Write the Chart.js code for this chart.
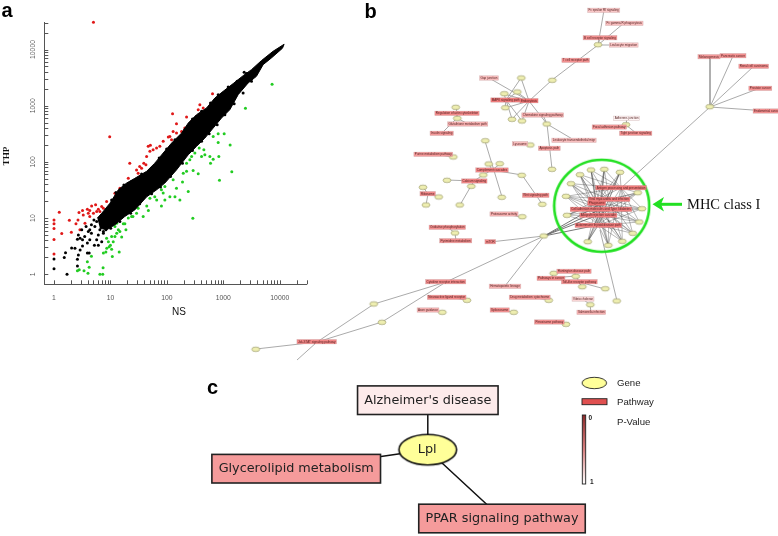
<!DOCTYPE html>
<html>
<head>
<meta charset="utf-8">
<style>
  html, body { margin: 0; padding: 0; background: #fff; }
  #wrap { position: relative; width: 778px; height: 536px; overflow: hidden; }
  canvas { position: absolute; left: 0; top: 0; }
</style>
<script src="https://cdn.jsdelivr.net/npm/chart.js@4/dist/chart.umd.min.js"></script>
</head>
<body>
<div id="wrap">
  <canvas id="scatter" width="330" height="330"></canvas>
  <canvas id="network" width="778" height="536"></canvas>
</div>
<script>
// panel a: expression values, NS vs THP
const redNS = [5, 9.7, 1, 1, 1, 1, 1, 1.24, 1.37, 1.87, 2.03, 2.45, 2.66, 2.77, 3.2, 2.88, 3.3, 3.9, 4.05, 4.64, 5.46, 5, 6.1, 7, 8.55, 12.5, 14.7, 20.7, 22, 29, 33, 31, 42.5, 46.7, 51, 50, 43.7, 65.6, 86, 106, 126, 129, 121, 148, 223, 208, 182, 384, 440, 643, 359, 15.8, 12, 4.3, 3.54, 5.7,
  35.6, 39, 57, 75, 113, 148, 274, 335, 6.5, 7.5, 4.3];
const redTHP = [30600, 280, 9.3, 7.9, 6.5, 4.15, 2.3, 12.7, 5.3, 9.2, 5.6, 7.9, 9.3, 12.6, 13.6, 6.2, 11.4, 14.4, 12.2, 16.5, 17.2, 12.2, 14.4, 16.1, 19.7, 24.2, 34, 51, 95, 72, 83, 63, 89, 189, 197, 154, 125, 176, 232, 277, 721, 349, 248, 478, 629, 401, 349, 1043, 910, 1640, 849, 21, 27.8, 10.7, 8.1, 13.1,
  77, 95, 164, 189, 284, 326, 526, 646, 13.1, 15, 13.6];
const greenNS = [7311, 2467, 1321, 1413, 855, 288, 1035, 810, 661, 810, 832, 661, 577, 593, 452, 471, 373, 313, 274, 223, 359, 292, 255, 195, 189, 239, 170, 148, 113, 129, 92, 80, 86, 66, 80, 61, 50, 47, 38, 44, 31, 25, 20.7, 16.9, 18.8, 13.8, 12.9, 15.8, 10.5, 9.2, 10, 8.6, 7.5, 14.3, 10.8, 4.6, 3.9, 4.2, 2.6, 2.8, 3.4, 4, 6.5, 7.3, 7.4, 10.5, 12.9, 12,
  8.55, 9.5, 8.3, 11.2, 12, 14.7, 18, 23.7, 29, 92, 139, 223, 411];
const greenTHP = [2404, 897, 199, 66.7, 47.4, 9.96, 317, 317, 284, 222, 125, 112, 125, 95, 164, 134, 176, 144, 125, 95, 61.4, 70, 109, 63, 43.7, 29.8, 21, 34, 24, 48, 36.5, 32, 28, 21, 16.5, 24, 22.6, 13.6, 10.7, 16.5, 15, 10.7, 10, 7.9, 6.2, 6.2, 5.4, 4.6, 4.7, 3.8, 3.3, 2.9, 2.4, 2.5, 2.07, 2.1, 1.68, 1.33, 1.16, 1.2, 1.16, 1.04, 1, 1, 1.31, 2.8, 8.1, 7.1,
  4.39, 3.1, 2.5, 3.8, 4.7, 5.8, 7.9, 10.7, 12.2, 21, 24, 68, 125];
const blackNS = [1, 1, 1.7, 1.52, 1.6, 2.05, 2.35, 2.6, 2.7, 2.6, 2.9, 3.2, 2.7, 2.9, 2.6, 3.2, 3.1, 3.7, 4.05, 3.5, 4.3, 4.6, 3.9, 3.9, 4.2, 5.2, 5.7, 6.1, 6.5, 5.3, 5.7, 4.6, 6.5, 7.5, 7, 8.3, 5.1, 4.3, 6.1, 2339, 2570,
  10.5, 12.5, 17.3, 23.7, 35.6, 53.6, 73, 99, 139, 208, 284, 411, 593, 810, 1219, 1758,
  7.5, 10.1, 14.7, 22.8, 33, 53.6, 77, 116, 189, 284, 411, 561, 778, 1064, 1556, 2244, 3155];
const blackTHP = [1.26, 1.88, 1, 2, 2.43, 2.95, 2.9, 1.85, 2.2, 1.4, 2.7, 3.2, 5, 4.4, 4.2, 4.1, 6.2, 7.1, 5.8, 4.7, 4.1, 5.4, 3.6, 2.4, 2.4, 3.3, 4.1, 5, 6.2, 7.1, 8.7, 7.6, 9.3, 5.4, 3.8, 6.2, 9.3, 6.2, 3.3, 3935, 3724,
  21, 28.6, 39, 45, 61, 77, 117, 169, 248, 374, 579, 794, 1117, 1574, 2153, 2716,
  5.8, 6.6, 8.7, 12.2, 18, 27, 35.6, 55, 95, 160, 232, 317, 459, 692, 1086, 1683, 2716];
// outline of the solid black band, up one edge and back down the other
const bandNS = [5.85, 7, 9.8, 13.8, 19.3, 27, 43.7, 61, 86, 121, 182, 239, 335, 504, 708, 993, 1493, 2244, 3155, 4742, 7620, 11940, 11150, 7112, 5070, 3864, 2754, 1832, 1303, 929, 661, 471, 335, 239, 148, 92, 66, 44, 27, 18, 12, 8.6, 6.5];
const bandTHP = [10, 12.2, 18.4, 32, 42, 51, 68, 95, 144, 216, 326, 492, 692, 910, 1372, 1803, 2472, 3428, 4385, 6353, 9311, 12400, 10520, 7079, 5383, 3334, 2541, 1574, 849, 604, 400, 265, 189, 134, 72, 42, 32, 24, 14, 10.7, 7.6, 6.2, 6.6];
const majorTicks = [1, 10, 100, 1000, 10000];
const logTicks = [1, 2, 3, 4, 5, 6, 7, 8, 9, 10, 20, 30, 40, 50, 60, 70, 80, 90, 100, 200, 300, 400, 500, 600, 700, 800, 900, 1000, 2000, 3000, 4000, 5000, 6000, 7000, 8000, 9000, 10000, 20000, 30000];

// panel b: network layout (x, y), pathway label and p-value
const geneNodes = [[598, 44.7], [552.3, 80.3], [709.7, 106.7], [626, 124.7], [546.7, 124], [552, 169.3], [521.3, 78], [517.3, 92], [504.3, 93.7], [505.3, 107.7], [512, 119.3], [522, 121], [455.7, 107.3], [457.3, 118.3], [530.3, 145], [453.3, 157], [485.3, 140.7], [488.7, 164], [499.7, 163.7], [483.3, 175], [447, 180.3], [471.3, 186.3], [459.7, 205], [521.7, 175.3], [542.3, 204.3], [501.7, 197.3], [423, 187.3], [438.7, 197], [426, 205], [522.3, 216.7], [455, 233], [543.7, 236], [373.7, 304], [382, 322.3], [255.7, 349.3], [467, 300.3], [442.3, 312.3], [513.7, 312.3], [548.7, 300.3], [566, 324.3], [553.7, 273.3], [575.7, 276.3], [582.3, 286.7], [605.3, 288.7], [590.3, 304.7], [616.7, 301]];
const mhcGenes = [[580, 174.7], [591, 170], [604.3, 169.3], [620, 172.3], [571, 183.7], [637.7, 192.7], [566, 196.3], [642, 208.7], [567, 215.3], [639.3, 222], [632.7, 233.3], [622.3, 241.3], [608.3, 245.3], [587.7, 241.7]];
const mhcPathways = [[621, 187.7], [609, 199.3], [596.7, 203.3], [601, 209.3], [598.3, 215.3], [598.3, 225.3]];
const mhcPathwayNames = ['Antigen processing and presentation', 'Viral myocarditis and infection', 'Phagosome', 'Cell adhesion molecules and Type I diabetes', 'Allograft rejection cascade', 'Autoimmune thyroid disease path'];
const mhcPathwayP = [0.35, 0.35, 0.3, 0.35, 0.35, 0.35];
const pathwayNodes = [[603.7, 10.3], [624.3, 23.3], [600, 37.7], [623.7, 45], [575.7, 60.3], [709, 56.7], [733, 55.7], [753.7, 66.3], [760.3, 88.3], [767, 111], [626.7, 118.3], [609.3, 127], [635.7, 133.3], [542.7, 115], [574, 140.3], [549.3, 148.3], [489, 78], [505.7, 100], [529, 100.7], [457, 113.3], [467.7, 124], [441.7, 133.3], [520, 143.7], [433.3, 154.3], [492, 170], [474.3, 181], [535.7, 195.3], [427.7, 193.7], [504, 214], [447.3, 227.3], [455.7, 240.7], [490.3, 241.7], [445.7, 281.7], [505, 286.3], [316.7, 341.7], [446.7, 297.3], [428, 310], [499.7, 310], [529.7, 297.3], [549.3, 322], [574, 271.3], [551, 278.3], [579.3, 281.7], [583, 299], [591.3, 312.3]];
const pathwayNames = ['Fc epsilon RI signaling', 'Fc gamma R phagocytosis', 'B cell receptor signaling', 'Leukocyte migration', 'T cell receptor path', 'Melanogenesis', 'Pancreatic cancer', 'Renal cell carcinoma', 'Prostate cancer', 'Endometrial cancer', 'Adherens junction', 'Focal adhesion pathway', 'Tight junction signaling', 'Chemokine signaling pathway', 'Leukocyte transendothelial migr', 'Apoptosis path', 'Gap junction', 'MAPK signaling path', 'Endocytosis', 'Regulation of actin cytoskeleton', 'Glutathione metabolism path', 'Insulin signaling', 'Lysosome', 'Purine metabolism pathway', 'Complement cascades', 'Calcium signaling', 'Wnt signaling path', 'Ribosome', 'Proteasome activity', 'Oxidative phosphorylation', 'Pyrimidine metabolism', 'mTOR', 'Cytokine receptor interaction', 'Hematopoietic lineage', 'Jak-STAT signaling pathway', 'Neuroactive ligand receptor', 'Axon guidance', 'Spliceosome', 'Drug metabolism cytochrome', 'Peroxisome pathway', 'Huntington disease path', 'Pathways in cancer', 'Toll-like receptor pathway', 'Vibrio cholerae', 'Salmonella infection'];
const pathwayP = [0.72, 0.68, 0.45, 0.72, 0.45, 0.5, 0.45, 0.45, 0.45, 0.45, 0.95, 0.5, 0.45, 0.62, 0.68, 0.5, 0.68, 0.35, 0.3, 0.42, 0.62, 0.5, 0.68, 0.5, 0.4, 0.4, 0.42, 0.42, 0.62, 0.45, 0.45, 0.42, 0.42, 0.62, 0.4, 0.42, 0.62, 0.45, 0.5, 0.45, 0.45, 0.42, 0.42, 0.8, 0.62];
const networkEdges = [
  [604, 10, 598, 45], [624, 23, 598, 45], [600, 38, 598, 45], [624, 45, 598, 45], [598, 45, 552, 80], [552, 80, 529, 101],
  [710, 57, 710, 107], [733, 56, 710, 107], [754, 66, 710, 107], [760, 88, 710, 107], [767, 111, 710, 107], [710, 107, 621, 188],
  [627, 118, 626, 125], [609, 127, 626, 125], [636, 133, 626, 125],
  [489, 78, 529, 101], [529, 101, 547, 124], [547, 124, 543, 115], [547, 124, 574, 140], [547, 124, 552, 169],
  [521, 78, 506, 100], [521, 78, 529, 101], [517, 92, 506, 100], [517, 92, 529, 101], [504, 94, 506, 100], [504, 94, 529, 101],
  [505, 108, 506, 100], [505, 108, 529, 101], [512, 119, 506, 100], [512, 119, 529, 101], [522, 121, 506, 100], [522, 121, 529, 101],
  [456, 107, 457, 113], [457, 113, 457, 118], [457, 118, 468, 124], [457, 118, 442, 133],
  [520, 144, 530, 145], [433, 154, 453, 157], [485, 141, 502, 197],
  [489, 164, 492, 170], [500, 164, 492, 170], [492, 170, 483, 175], [492, 170, 522, 175], [522, 175, 536, 195], [536, 195, 542, 204],
  [483, 175, 474, 181], [447, 180, 474, 181], [474, 181, 471, 186], [471, 186, 460, 205],
  [423, 187, 428, 194], [439, 197, 428, 194], [426, 205, 428, 194], [504, 214, 522, 217],
  [447, 227, 455, 233], [455, 233, 456, 241], [490, 242, 544, 236], [544, 236, 446, 282], [544, 236, 505, 286],
  [446, 282, 374, 304], [446, 282, 382, 322], [374, 304, 317, 342], [317, 342, 297, 360], [382, 322, 317, 342], [317, 342, 256, 349],
  [447, 297, 467, 300], [428, 310, 442, 312], [500, 310, 514, 312], [530, 297, 549, 300], [549, 322, 566, 324],
  [574, 271, 576, 276], [554, 273, 551, 278], [576, 276, 551, 278], [576, 276, 579, 282], [579, 282, 582, 287], [579, 282, 605, 289],
  [583, 299, 590, 305], [590, 305, 591, 312], [617, 301, 600, 230]
];
const hubEdges = [[544, 236, 598, 225], [544, 236, 598, 215], [544, 236, 601, 209], [544, 236, 609, 199]];
const mhcOutline = [[601.7, 205.8]];

// panel c
const cGene = [[427.7, 449.7]];
const cPathways = [[427.8, 400.2], [296.2, 468.7], [502, 518.5]];
const cPathwayNames = ["Alzheimer's disease", 'Glycerolipid metabolism', 'PPAR signaling pathway'];
const cPathwayP = [0.9, 0.5, 0.5];

function pathwayColor(p) {
  const mix = (c) => Math.round(255 + (c - 255) * (1 - p));
  return 'rgb(' + mix(235) + ',' + mix(55) + ',' + mix(55) + ')';
}

function ellipseStyle(w, h, fill, stroke, lw) {
  const c = document.createElement('canvas');
  c.width = Math.ceil(w) + 4;
  c.height = Math.ceil(h) + 4;
  const g = c.getContext('2d');
  g.beginPath();
  g.ellipse(c.width / 2, c.height / 2, w / 2, h / 2, 0, 0, Math.PI * 2);
  g.fillStyle = fill;
  g.fill();
  g.lineWidth = lw;
  g.strokeStyle = stroke;
  g.stroke();
  return c;
}

function zipXY(xs, ys) {
  return xs.map((x, i) => ({ x: x, y: ys[i] }));
}

// --- scatter chart ---
const scatterLabels = {
  id: 'scatterLabels',
  afterDraw(chart) {
    const ctx = chart.ctx;
    const xs = chart.scales.x, ys = chart.scales.y;
    ctx.save();
    ctx.strokeStyle = '#555';
    ctx.lineWidth = 1;
    ctx.beginPath();
    logTicks.forEach((v) => {
      const px = Math.round(xs.getPixelForValue(v)) + 0.5;
      ctx.moveTo(px, xs.top);
      ctx.lineTo(px, xs.top - 4);
      const py = Math.round(ys.getPixelForValue(v)) + 0.5;
      ctx.moveTo(ys.right, py);
      ctx.lineTo(ys.right + 4, py);
    });
    ctx.stroke();
    // rotated y tick labels, the library cannot centre these
    ctx.fillStyle = '#555';
    ctx.font = '6.8px "Liberation Sans"';
    ctx.textAlign = 'center';
    ctx.textBaseline = 'middle';
    majorTicks.forEach((v) => {
      ctx.save();
      ctx.translate(33, ys.getPixelForValue(v));
      ctx.rotate(-Math.PI / 2);
      ctx.fillText(String(v), 0, 0);
      ctx.restore();
    });
    ctx.fillStyle = '#111';
    ctx.font = '10px "Liberation Sans"';
    ctx.fillText('NS', 179, 312.7);
    ctx.font = 'bold 9.2px "Liberation Serif"';
    ctx.save();
    ctx.translate(7, 156);
    ctx.rotate(-Math.PI / 2);
    ctx.fillText('THP', 0, 0);
    ctx.restore();
    ctx.restore();
  }
};

function pointSet(xs, ys, color, order) {
  return {
    data: zipXY(xs, ys),
    backgroundColor: color,
    borderWidth: 0,
    pointRadius: 1.5,
    pointHoverRadius: 1.5,
    clip: false,
    order: order
  };
}

new Chart(document.getElementById('scatter').getContext('2d'), {
  type: 'scatter',
  data: {
    datasets: [
      pointSet(blackNS, blackTHP, '#000', 2),
      pointSet(redNS, redTHP, '#e01818', 3),
      pointSet(greenNS, greenTHP, '#22cc22', 3),
      {
        data: zipXY(bandNS, bandTHP),
        showLine: true,
        fill: 'shape',
        backgroundColor: '#000',
        borderColor: '#000',
        borderWidth: 1,
        pointRadius: 0,
        order: 1
      }
    ]
  },
  options: {
    responsive: false,
    animation: false,
    layout: { autoPadding: false, padding: { left: 0, top: 22.7, right: 23.3, bottom: 0 } },
    plugins: { legend: { display: false }, tooltip: { enabled: false } },
    scales: {
      x: {
        type: 'logarithmic',
        min: 0.673,
        max: 30000,
        afterFit(s) { s.height = 45.7; },
        afterBuildTicks(s) { s.ticks = logTicks.map((v) => ({ value: v })); },
        grid: { display: false },
        border: { display: true, color: '#555', width: 1 },
        ticks: {
          autoSkip: false,
          maxRotation: 0,
          padding: 1.5,
          color: '#555',
          font: { family: 'Liberation Sans', size: 6.8 },
          callback: (v) => (majorTicks.includes(v) ? String(v) : '')
        }
      },
      y: {
        type: 'logarithmic',
        min: 0.664,
        max: 30000,
        afterFit(s) { s.width = 44.3; },
        afterBuildTicks(s) { s.ticks = logTicks.map((v) => ({ value: v })); },
        grid: { display: false },
        border: { display: true, color: '#555', width: 1 },
        ticks: { display: false }
      }
    }
  },
  plugins: [scatterLabels]
});

// --- network panels, drawn over the whole page ---
function edgePoints(edges) {
  const out = [];
  edges.forEach((e) => {
    out.push({ x: e[0], y: e[1] }, { x: e[2], y: e[3] }, { x: NaN, y: NaN });
  });
  return out;
}

const mhcEdges = [];
mhcGenes.forEach((g) => {
  mhcPathways.forEach((p) => mhcEdges.push([g[0], g[1], p[0], p[1]]));
});
const cEdges = cPathways.map((p) => [cGene[0][0], cGene[0][1], p[0], p[1]]);

function lineSet(edges, color, width, order) {
  return {
    type: 'line',
    data: edgePoints(edges),
    borderColor: color,
    borderWidth: width,
    pointRadius: 0,
    spanGaps: false,
    tension: 0,
    order: order
  };
}

function drawBoxes(chart, nodes, names, pvals, font, height, pad, edge, edgeW, textColor) {
  const ctx = chart.ctx;
  const xs = chart.scales.x, ys = chart.scales.y;
  ctx.font = font;
  ctx.textAlign = 'center';
  ctx.textBaseline = 'middle';
  nodes.forEach((n, i) => {
    const w = ctx.measureText(names[i]).width + pad;
    const px = xs.getPixelForValue(n[0]), py = ys.getPixelForValue(n[1]);
    ctx.fillStyle = pathwayColor(pvals[i]);
    ctx.fillRect(px - w / 2, py - height / 2, w, height);
    ctx.strokeStyle = edge;
    ctx.lineWidth = edgeW;
    ctx.strokeRect(px - w / 2, py - height / 2, w, height);
    ctx.fillStyle = textColor;
    ctx.fillText(names[i], px, py + 0.3);
  });
}

const networkBoxes = {
  id: 'networkBoxes',
  afterDatasetsDraw(chart) {
    const ctx = chart.ctx;
    ctx.save();
    drawBoxes(chart, pathwayNodes, pathwayNames, pathwayP, '3px "Liberation Sans"', 4.4, 2, 'rgba(190,150,150,0.6)', 0.5, '#522');
    drawBoxes(chart, mhcPathways, mhcPathwayNames, mhcPathwayP, '3px "Liberation Sans"', 4.4, 2, 'rgba(190,120,120,0.6)', 0.5, '#522');
    drawBoxes(chart, cPathways, cPathwayNames, cPathwayP, '12.8px "DejaVu Sans"', 28.6, 13.5, '#222', 1.6, '#222');

    // c gene label
    ctx.fillStyle = '#222';
    ctx.font = '12.8px "DejaVu Sans"';
    ctx.fillText('Lpl', 427.2, 449.7);

    // panel letters
    ctx.fillStyle = '#000';
    ctx.font = 'bold 20px "Liberation Sans"';
    ctx.textAlign = 'left';
    ctx.textBaseline = 'alphabetic';
    ctx.fillText('a', 1.5, 17.3);
    ctx.fillText('b', 364.5, 17.5);
    ctx.fillText('c', 207, 394);

    // MHC arrow and label
    ctx.strokeStyle = '#22e022';
    ctx.fillStyle = '#22e022';
    ctx.lineWidth = 3;
    ctx.beginPath();
    ctx.moveTo(682, 204.3);
    ctx.lineTo(660, 204.3);
    ctx.stroke();
    ctx.beginPath();
    ctx.moveTo(652.5, 204.3);
    ctx.lineTo(664, 197);
    ctx.lineTo(661, 204.3);
    ctx.lineTo(664, 211.6);
    ctx.closePath();
    ctx.fill();
    ctx.fillStyle = '#111';
    ctx.font = '14.5px "Liberation Serif"';
    ctx.fillText('MHC class I', 687, 209);

    // legend
    ctx.fillStyle = '#222';
    ctx.font = '9.6px "Liberation Sans"';
    ctx.textBaseline = 'middle';
    ctx.fillText('Gene', 617, 383);
    ctx.fillText('Pathway', 617, 402.3);
    ctx.fillText('P-Value', 617, 422);
    ctx.fillStyle = '#e05050';
    ctx.fillRect(582, 398.7, 25, 6);
    ctx.strokeStyle = '#222';
    ctx.lineWidth = 0.9;
    ctx.strokeRect(582, 398.7, 25, 6);
    const grad = ctx.createLinearGradient(0, 415, 0, 484);
    grad.addColorStop(0, '#8c2a2a');
    grad.addColorStop(0.5, '#d88080');
    grad.addColorStop(1, '#ffffff');
    ctx.fillStyle = grad;
    ctx.fillRect(582.3, 415, 3.4, 69);
    ctx.strokeRect(582.3, 415, 3.4, 69);
    ctx.fillStyle = '#222';
    ctx.font = 'bold 6.5px "Liberation Sans"';
    ctx.fillText('0', 588.5, 418.7);
    ctx.fillText('1', 590, 482);
    ctx.restore();
  }
};

new Chart(document.getElementById('network').getContext('2d'), {
  type: 'scatter',
  data: {
    datasets: [
      lineSet(networkEdges, '#a0a0a0', 0.9, 5),
      lineSet(mhcEdges, 'rgba(70,70,70,0.55)', 0.7, 4),
      lineSet(hubEdges, '#666', 0.9, 4),
      lineSet(cEdges, '#111', 1.5, 4),
      {
        data: geneNodes.concat(mhcGenes).map((n) => ({ x: n[0], y: n[1] })),
        pointStyle: ellipseStyle(8, 4.6, '#eeeeb0', '#8f8f60', 0.6),
        pointRadius: 4,
        order: 3
      },
      {
        data: mhcOutline.map((n) => ({ x: n[0], y: n[1] })),
        pointStyle: ellipseStyle(95, 92, 'rgba(0,0,0,0)', '#22e022', 2.6),
        pointRadius: 47,
        order: 2
      },
      {
        data: cGene.map((n) => ({ x: n[0], y: n[1] })),
        pointStyle: ellipseStyle(57.6, 30.4, '#ffff99', '#111', 1.6),
        pointRadius: 30,
        order: 1
      },
      {
        data: [{ x: 594.3, y: 383 }],
        pointStyle: ellipseStyle(24.6, 11.4, '#ffff99', '#222', 0.9),
        pointRadius: 12,
        order: 1
      }
    ]
  },
  options: {
    responsive: false,
    animation: false,
    layout: { autoPadding: false, padding: 0 },
    plugins: { legend: { display: false }, tooltip: { enabled: false } },
    scales: {
      x: { type: 'linear', min: 0, max: 778, display: false },
      y: { type: 'linear', min: 0, max: 536, reverse: true, display: false }
    }
  },
  plugins: [networkBoxes]
});
</script>
</body>
</html>
